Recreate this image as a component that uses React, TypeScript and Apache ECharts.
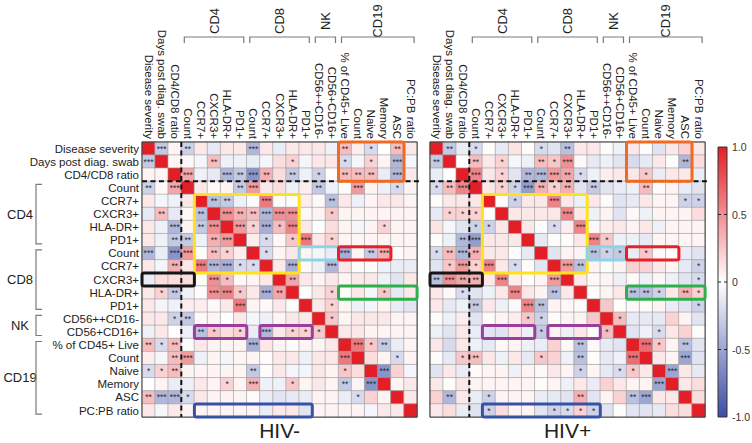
import React, { useEffect, useRef } from "react";
import * as echarts from "echarts";

const labels = ["Disease severity","Days post diag. swab","CD4/CD8 ratio","Count","CCR7+","CXCR3+","HLA-DR+","PD1+","Count","CCR7+","CXCR3+","HLA-DR+","PD1+","CD56++CD16-","CD56+CD16+","% of CD45+ Live","Count","Naive","Memory","ASC","PC:PB ratio"];

const groups = [
  { name: "CD4", from: 3, to: 7 },
  { name: "CD8", from: 8, to: 12 },
  { name: "NK", from: 13, to: 14 },
  { name: "CD19", from: 15, to: 20 },
];

// lower triangle (row r, cols 0..r-1) of the HIV- correlation matrix
const negValues: number[][] = [
  [],
  [-0.3],
  [0.05, 0.05],
  [-0.25, 0.03, 0.4],
  [0.1, -0.05, -0.08, 0.1],
  [-0.12, 0.3, -0.12, 0.03, -0.35],
  [0.1, -0.08, -0.4, 0.05, -0.3, 0.5],
  [0.1, -0.08, -0.3, -0.3, -0.08, 0.35, 0.45],
  [-0.4, -0.1, -0.6, 0.45, 0.02, 0.3, 0.2, 0.08],
  [0.1, -0.05, 0.35, 0.1, 0.6, -0.4, -0.45, -0.2, -0.2],
  [-0.1, 0.15, 0.15, 0.15, 0.02, 0.5, 0.3, 0.03, 0.05, 0.1],
  [0.1, 0.2, -0.3, -0.08, 0.02, 0.5, 0.55, 0.25, 0.1, -0.45, 0.4],
  [0.1, -0.05, -0.08, 0.08, 0.08, 0.03, 0.1, 0.6, 0.05, 0.03, 0.1, 0.02],
  [0.1, 0.1, -0.25, -0.3, 0.03, 0.05, 0, 0.1, -0.05, -0.08, 0.05, 0.1, 0.1],
  [-0.08, 0.1, 0, -0.08, -0.35, 0.25, 0.15, 0.2, -0.1, -0.4, 0.1, 0.2, 0.2, 0.25],
  [0.3, -0.2, 0.3, 0.02, 0.1, 0.05, 0.05, 0.05, -0.45, 0.1, 0.05, 0.02, 0.05, 0.05, 0.1],
  [0.08, -0.05, 0.3, 0.45, -0.08, 0.05, -0.05, 0.05, 0.05, 0.02, 0.1, 0.1, -0.08, 0.1, 0.1, 0.6],
  [-0.2, 0.2, 0.3, 0.05, 0.05, 0.05, 0.05, 0.05, -0.3, 0.02, 0.1, -0.05, -0.05, 0.1, 0.05, 0.25, 0.15],
  [0, 0.05, -0.1, -0.08, 0.1, 0.05, 0.2, 0.05, 0.35, -0.08, -0.08, 0.25, 0.05, 0.1, 0.05, -0.3, 0.05, -0.6],
  [0.3, -0.4, -0.4, -0.2, 0.1, 0.05, 0.05, 0.05, 0.02, -0.1, -0.15, -0.12, -0.1, 0.05, 0.05, -0.1, -0.2, 0.2, 0.05],
  [0.1, -0.05, 0.1, 0.05, 0.05, 0.05, 0.05, 0.05, 0.05, -0.1, 0.1, 0.1, -0.15, 0.05, 0.05, 0.05, 0.05, -0.05, 0.1, 0.1],
];
const negStars: number[][] = [
  [],
  [3],
  [0, 0],
  [2, 0, 3],
  [0, 0, 0, 0],
  [0, 2, 0, 0, 2],
  [0, 0, 3, 0, 2, 3],
  [0, 0, 2, 2, 0, 2, 3],
  [3, 0, 3, 3, 0, 2, 1, 0],
  [0, 0, 2, 0, 3, 3, 3, 1, 1],
  [0, 0, 0, 0, 0, 3, 1, 0, 0, 0],
  [0, 1, 2, 0, 0, 3, 3, 1, 0, 3, 2],
  [0, 0, 0, 0, 0, 0, 0, 3, 0, 0, 0, 0],
  [0, 0, 1, 2, 0, 0, 0, 0, 0, 0, 0, 0, 0],
  [0, 0, 0, 0, 2, 1, 0, 1, 0, 3, 0, 1, 1, 1],
  [2, 1, 2, 0, 0, 0, 0, 0, 3, 0, 0, 0, 0, 0, 0],
  [0, 0, 2, 3, 0, 0, 0, 0, 0, 0, 0, 0, 0, 0, 0, 3],
  [1, 1, 2, 0, 0, 0, 0, 0, 2, 0, 0, 0, 0, 0, 0, 1, 0],
  [0, 0, 0, 0, 0, 0, 1, 0, 3, 0, 0, 1, 0, 0, 0, 2, 0, 3],
  [2, 3, 3, 1, 0, 0, 0, 0, 0, 0, 0, 0, 0, 0, 0, 0, 1, 0, 0],
  [0, 0, 0, 0, 0, 0, 0, 0, 0, 0, 0, 0, 0, 0, 0, 0, 0, 0, 0, 0],
];

// lower triangle of the HIV+ correlation matrix
const posValues: number[][] = [
  [],
  [-0.3],
  [-0.1, 0],
  [-0.2, 0.3, 0.55],
  [0.02, 0.1, 0.1, 0.1],
  [-0.12, 0.2, 0.2, 0.2, 0.02],
  [0.12, -0.05, -0.15, -0.25, -0.25, 0.1],
  [0.02, -0.08, -0.4, -0.55, 0.1, 0.1, 0.1],
  [-0.2, 0.3, -0.4, 0.35, 0.1, 0.1, 0.02, -0.12],
  [-0.15, 0.25, 0.45, 0.2, 0.55, 0.1, -0.2, 0.02, -0.15],
  [-0.35, 0.5, 0.4, 0.35, 0.1, 0.55, 0.08, 0.02, 0.05, 0.45],
  [0.1, 0.03, -0.2, -0.15, -0.08, 0.1, 0.55, 0.1, 0.05, -0.35, 0.1],
  [0.1, -0.12, -0.08, -0.3, 0.1, -0.08, 0.03, 0.55, -0.35, 0.05, 0.03, 0.02],
  [0.02, -0.08, 0.08, -0.15, 0.02, 0.05, 0.08, 0.25, -0.25, 0.02, 0.05, 0.05, 0.25],
  [-0.08, -0.15, 0.1, -0.1, -0.15, -0.15, 0.1, -0.08, -0.3, 0.05, -0.08, 0.1, 0.02, 0.3],
  [0.1, -0.2, 0.1, -0.08, -0.12, 0.03, 0.05, -0.08, -0.1, 0.2, 0.03, -0.35, 0.03, -0.12, -0.15],
  [0.02, -0.12, 0.25, 0.3, 0.1, -0.08, 0.1, -0.12, 0.25, 0.2, -0.08, -0.35, 0.02, -0.12, -0.08, 0.65],
  [-0.15, 0.1, -0.1, 0.02, 0.05, 0.05, -0.08, 0.05, 0.03, 0.1, 0.05, -0.25, 0.05, -0.12, -0.2, 0.25, 0.1],
  [0.1, 0.02, 0.1, 0.05, 0.05, 0.05, 0.05, 0.05, 0.02, 0.05, -0.08, 0.1, -0.1, 0.2, 0.1, 0.05, 0.05, -0.5],
  [0.2, -0.4, 0.1, -0.1, -0.25, 0.05, 0.05, 0.05, -0.1, -0.12, -0.15, 0.35, -0.15, 0.05, 0.2, -0.35, -0.5, 0.1, 0.1],
  [0.1, 0.15, -0.1, -0.15, -0.25, 0.15, 0.05, 0.05, -0.15, -0.25, -0.2, 0.2, -0.25, -0.15, 0.02, -0.15, -0.15, -0.12, 0.15, 0.15],
];
const posStars: number[][] = [
  [],
  [2],
  [0, 0],
  [1, 2, 3],
  [0, 0, 0, 0],
  [0, 1, 1, 1, 0],
  [0, 0, 0, 1, 1, 0],
  [0, 0, 2, 3, 0, 0, 0],
  [1, 2, 3, 2, 0, 0, 0, 0],
  [0, 1, 3, 1, 3, 0, 1, 0, 0],
  [2, 3, 2, 2, 0, 3, 0, 0, 0, 3],
  [0, 0, 1, 0, 0, 0, 3, 0, 0, 2, 0],
  [0, 0, 0, 2, 0, 0, 0, 3, 2, 0, 0, 0],
  [0, 0, 0, 0, 0, 0, 0, 1, 1, 0, 0, 0, 0],
  [0, 0, 0, 0, 0, 0, 0, 0, 1, 0, 0, 0, 0, 1],
  [0, 0, 0, 0, 0, 0, 0, 0, 0, 0, 0, 2, 0, 0, 0],
  [0, 0, 1, 2, 0, 0, 0, 0, 1, 0, 0, 2, 0, 0, 0, 3],
  [0, 0, 0, 0, 0, 0, 0, 0, 0, 0, 0, 1, 0, 0, 1, 1, 0],
  [0, 0, 0, 0, 0, 0, 0, 0, 0, 0, 0, 0, 0, 0, 0, 0, 0, 3],
  [0, 2, 0, 0, 1, 0, 0, 0, 0, 0, 0, 2, 0, 0, 0, 2, 3, 0, 0],
  [0, 0, 0, 0, 1, 0, 0, 0, 0, 1, 1, 1, 1, 0, 0, 0, 0, 0, 0, 0],
];

// highlight boxes: [colFrom, rowFrom, colTo, rowTo, color]
const boxes: [number, number, number, number, string][] = [
  [4, 4, 11, 9, "#FFE21A"],
  [15, 0, 19, 2, "#F26A21"],
  [12, 8, 14, 8, "#8FD3E6"],
  [15, 8, 18, 8, "#E8202A"],
  [0, 10, 3, 10, "#151515"],
  [15, 11, 20, 11, "#2DB04B"],
  [4, 14, 7, 14, "#9A3D9C"],
  [9, 14, 12, 14, "#9A3D9C"],
  [4, 20, 12, 20, "#3552A6"],
];

const panelTitles = ["HIV-", "HIV+"];
const colorTicks = [1.0, 0.5, 0, -0.5, -1.0];
const tickText = ["1.0", "0.5", "0", "-0.5", "-1.0"];

const FONT = "Liberation Sans, Arial, Helvetica, sans-serif";
const N = labels.length;

function buildData(vals: number[][], stars: number[][]) {
  const out: any[] = [];
  for (let r = 0; r < N; r++) {
    for (let c = 0; c < N; c++) {
      let v = 1, s = 0;
      if (c < r) { v = vals[r][c]; s = stars[r][c]; }
      else if (c > r) { v = vals[c][r]; s = stars[c][r]; }
      out.push({ value: [c, r, v], s });
    }
  }
  return out;
}

export default function App() {
  const ref = useRef<HTMLDivElement>(null);
  useEffect(() => {
    document.body.style.margin = "0";
    const chart = echarts.init(ref.current!, null, { renderer: "svg" });
    const cats = labels.map((_, i) => String(i));
    const gridDefs = [
      { left: 142, top: 142, width: 275.1, height: 275.1 },
      { left: 430, top: 142, width: 275.1, height: 275.1 },
    ];
    const option: any = {
      animation: false,
      grid: gridDefs,
      xAxis: gridDefs.map((_, g) => ({
        type: "category", gridIndex: g, position: "top", data: cats,
        axisLine: { show: false }, axisTick: { show: false }, splitLine: { show: false },
        axisLabel: {
          interval: 0, rotate: 90, margin: 3, fontSize: 11.5, color: "#222", fontFamily: FONT,
          formatter: (_v: string, i: number) => labels[i],
        },
      })),
      yAxis: gridDefs.map((_, g) => ({
        type: "category", gridIndex: g, inverse: true, data: cats,
        axisLine: { show: false }, axisTick: { show: false }, splitLine: { show: false },
        axisLabel: {
          show: g === 0, interval: 0, margin: 3, fontSize: 11.5, color: "#222", fontFamily: FONT,
          formatter: (_v: string, i: number) => labels[i],
        },
      })),
      visualMap: {
        show: false, type: "continuous", min: -1, max: 1, dimension: 2, seriesIndex: [0, 1],
        inRange: { color: ["#3B4CA6", "#FFFFFF", "#E41E26"] },
      },
      series: [
        buildData(negValues, negStars),
        buildData(posValues, posStars),
      ].map((d, g) => ({
        type: "heatmap", xAxisIndex: g, yAxisIndex: g, data: d,
        itemStyle: { borderColor: "#9a9a9a", borderWidth: 0.6 },
        label: {
          show: true, fontSize: 8.5, color: "#2a2a2a", fontFamily: FONT,
          formatter: (p: any) => (p.data.s ? "*".repeat(p.data.s) : ""),
        },
        emphasis: { disabled: true },
      })),
    };
    chart.setOption(option);

    const px = (g: number, c: number, r: number) =>
      chart.convertToPixel({ xAxisIndex: g, yAxisIndex: g } as any, [c, r]) as number[];
    const p0 = px(0, 0, 0);
    const p1 = px(0, 1, 1);
    const cw = p1[0] - p0[0];
    const ch = p1[1] - p0[1];
    const corner = (g: number, c: number, r: number) => {
      const p = px(g, c, r);
      return [p[0] - cw / 2, p[1] - ch / 2];
    };

    const els: any[] = [];
    for (let g = 0; g < 2; g++) {
      const tl = corner(g, 0, 0);
      const br = corner(g, N, N);
      els.push({ type: "rect", shape: { x: tl[0], y: tl[1], width: br[0] - tl[0], height: br[1] - tl[1] },
        style: { fill: "none", stroke: "#3a3a3a", lineWidth: 1 }, z: 10 });
      const d = corner(g, 3, 3);
      els.push({ type: "line", shape: { x1: d[0], y1: tl[1], x2: d[0], y2: br[1] },
        style: { stroke: "#111", lineWidth: 2, lineDash: [5, 3.5] }, z: 11 });
      els.push({ type: "line", shape: { x1: tl[0], y1: d[1], x2: br[0] + 3, y2: d[1] },
        style: { stroke: "#111", lineWidth: 2, lineDash: [5, 3.5] }, z: 11 });
      boxes.forEach(([c0, r0, c1, r1, col]) => {
        const a = corner(g, c0, r0);
        const b = corner(g, c1 + 1, r1 + 1);
        els.push({ type: "rect", shape: { x: a[0], y: a[1], width: b[0] - a[0], height: b[1] - a[1], r: 2 },
          style: { fill: "none", stroke: col, lineWidth: 3 }, z: 12 });
      });
      groups.forEach((gr) => {
        const a = corner(g, gr.from, 0)[0] + 3;
        const b = corner(g, gr.to + 1, 0)[0] - 3;
        const y = 37;
        els.push({ type: "polyline", shape: { points: [[a, y + 6], [a, y], [b, y], [b, y + 6]] },
          style: { fill: "none", stroke: "#7a7a7a", lineWidth: 1.2 }, z: 5 });
        els.push({ type: "text", x: (a + b) / 2, y: 21, rotation: Math.PI / 2,
          style: { text: gr.name, fontSize: 13, fill: "#222", fontFamily: FONT, align: "center", verticalAlign: "middle" } });
      });
      const mid = (tl[0] + br[0]) / 2;
      els.push({ type: "text", x: mid, y: br[1] + 13, style: { text: panelTitles[g], fontSize: 21, fill: "#222", fontFamily: FONT, align: "center", verticalAlign: "middle" } });
    }
    groups.forEach((gr) => {
      const a = corner(0, 0, gr.from)[1] + 3;
      const b = corner(0, 0, gr.to + 1)[1] - 3;
      const x = 36;
      els.push({ type: "polyline", shape: { points: [[x + 6, a], [x, a], [x, b], [x + 6, b]] },
        style: { fill: "none", stroke: "#7a7a7a", lineWidth: 1.2 }, z: 5 });
      els.push({ type: "text", x: 20, y: (a + b) / 2,
        style: { text: gr.name, fontSize: 13, fill: "#222", fontFamily: FONT, align: "center", verticalAlign: "middle" } });
    });
    const cbX = 718, cbY = 147, cbW = 9, cbH = 270;
    els.push({ type: "rect", shape: { x: cbX, y: cbY, width: cbW, height: cbH },
      style: {
        fill: new echarts.graphic.LinearGradient(0, 0, 0, 1, [
          { offset: 0, color: "#E41E26" }, { offset: 0.5, color: "#FFFFFF" }, { offset: 1, color: "#3B4CA6" },
        ]),
        stroke: "#333", lineWidth: 1,
      } });
    colorTicks.forEach((v, i) => {
      const y = cbY + ((1 - v) / 2) * cbH;
      if (i > 0 && i < colorTicks.length - 1) {
        els.push({ type: "line", shape: { x1: cbX, y1: y, x2: cbX + 3, y2: y }, style: { stroke: "#222", lineWidth: 1 } });
        els.push({ type: "line", shape: { x1: cbX + cbW - 3, y1: y, x2: cbX + cbW, y2: y }, style: { stroke: "#222", lineWidth: 1 } });
      }
      els.push({ type: "text", x: cbX + cbW + 5, y, style: { text: tickText[i], fontSize: 10.5, fill: "#333", fontFamily: FONT, align: "left", verticalAlign: "middle" } });
    });
    chart.setOption({ graphic: els });
    return () => chart.dispose();
  }, []);
  return <div ref={ref} style={{ width: 752, height: 443 }} />;
}
